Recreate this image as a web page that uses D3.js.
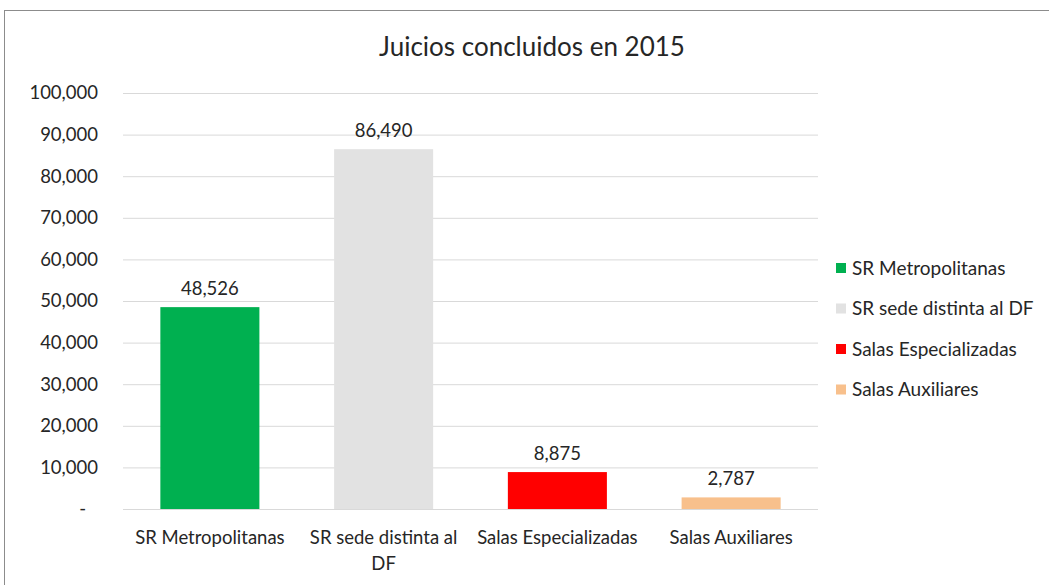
<!DOCTYPE html>
<html>
<head>
<meta charset="utf-8">
<script src="https://cdn.jsdelivr.net/npm/d3@7"></script>
<style>
  body { margin: 0; background: #fff; }
  text { font-family: Lato, "Open Sans", sans-serif; fill: #262626; }
</style>
</head>
<body>
<svg width="1049" height="585"></svg>
<script>
var categories = ["SR Metropolitanas", "SR sede distinta al DF", "Salas Especializadas", "Salas Auxiliares"];
var values = [48526, 86490, 8875, 2787];
var colors = ["#00b050", "#e2e2e2", "#ff0000", "#f8c08c"];
var yTicks = [0, 10000, 20000, 30000, 40000, 50000, 60000, 70000, 80000, 90000, 100000];

var svg = d3.select("svg"),
    margin = {top: 93, right: 231, bottom: 76, left: 123},
    width = 1049 - margin.left - margin.right,
    height = 585 - margin.top - margin.bottom;

// chart frame
svg.append("rect")
    .attr("x", 4.5).attr("y", 10.5)
    .attr("width", 1049).attr("height", 585)
    .attr("fill", "none")
    .attr("stroke", "#8c8c8c");

svg.append("text")
    .attr("x", 532).attr("y", 56)
    .attr("text-anchor", "middle")
    .style("font-size", "26px")
    .text("Juicios concluidos en 2015");

var x = d3.scaleBand().domain(categories).range([0, width]).paddingInner(0.43).paddingOuter(0.215),
    y = d3.scaleLinear().domain([0, 100000]).range([height, 0]);

var g = svg.append("g")
    .attr("transform", "translate(" + margin.left + "," + margin.top + ")");

// gridlines
g.selectAll(".grid")
    .data(yTicks)
    .enter().append("line")
    .attr("x1", 0).attr("x2", width)
    .attr("y1", function(d) { return y(d) + 0.5; })
    .attr("y2", function(d) { return y(d) + 0.5; })
    .attr("stroke", "#d9d9d9");

// y axis labels
var fmt = d3.format(",");
g.selectAll(".ylab")
    .data(yTicks)
    .enter().append("text")
    .attr("x", -25)
    .attr("y", function(d) { return y(d); })
    .attr("dy", ".35em")
    .attr("text-anchor", "end")
    .style("font-size", "18.5px")
    .text(function(d) { return d === 0 ? "-" : fmt(d); })
    .attr("dx", function(d) { return d === 0 ? -12 : 0; });

// bars
g.selectAll(".bar")
    .data(values)
    .enter().append("rect")
    .attr("x", function(d, i) { return x(categories[i]); })
    .attr("y", function(d) { return y(d); })
    .attr("width", x.bandwidth())
    .attr("height", function(d) { return height - y(d); })
    .attr("fill", function(d, i) { return colors[i]; });

// value labels
g.selectAll(".val")
    .data(values)
    .enter().append("text")
    .attr("x", function(d, i) { return x(categories[i]) + x.bandwidth() / 2; })
    .attr("y", function(d) { return y(d) - 12; })
    .attr("text-anchor", "middle")
    .style("font-size", "18.5px")
    .text(function(d) { return fmt(d); });

// category labels, wrapped
var catLines = [["SR Metropolitanas"], ["SR sede distinta al", "DF"], ["Salas Especializadas"], ["Salas Auxiliares"]];
var cat = g.selectAll(".cat")
    .data(categories)
    .enter().append("text")
    .attr("text-anchor", "middle")
    .style("font-size", "18.5px")
    .attr("transform", function(d) { return "translate(" + (x(d) + x.bandwidth() / 2) + "," + (height + 35) + ")"; });
cat.selectAll("tspan")
    .data(function(d, i) { return catLines[i]; })
    .enter().append("tspan")
    .attr("x", 0)
    .attr("dy", function(d, i) { return i === 0 ? 0 : 26; })
    .text(function(d) { return d; });

// legend
var legend = svg.selectAll(".legend")
    .data(categories)
    .enter().append("g")
    .attr("transform", function(d, i) { return "translate(836," + (268 + i * 40.5) + ")"; });
legend.append("rect")
    .attr("x", 0).attr("y", -5)
    .attr("width", 10).attr("height", 10)
    .attr("fill", function(d, i) { return colors[i]; });
legend.append("text")
    .attr("x", 16).attr("dy", ".35em")
    .style("font-size", "19px")
    .text(function(d) { return d; });
</script>
</body>
</html>
